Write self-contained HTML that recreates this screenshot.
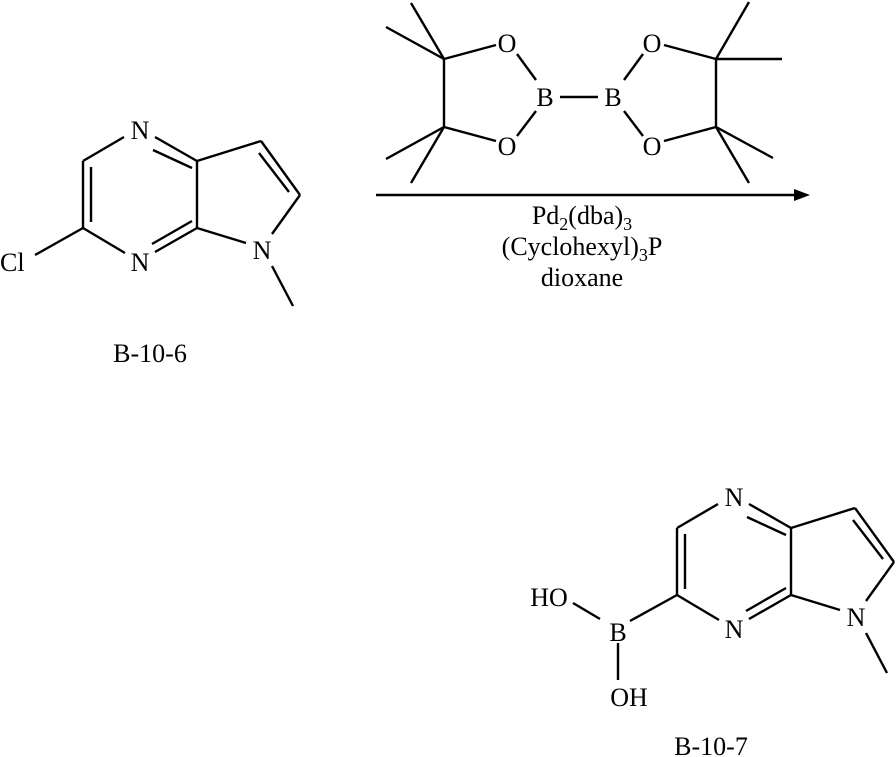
<!DOCTYPE html>
<html><head><style>
html,body{margin:0;padding:0;background:#fff;}
svg{display:block;}
text{font-family:"Liberation Serif",serif;font-size:26px;fill:#000;}
</style></head><body>
<svg width="896" height="757" viewBox="0 0 896 757" xmlns="http://www.w3.org/2000/svg">
<defs>
<g id="core" stroke="#000" stroke-width="2.4" fill="none">
  <line x1="124" y1="137" x2="83" y2="161"/>
  <line x1="83" y1="161" x2="83" y2="228"/>
  <line x1="91" y1="167" x2="91" y2="222"/>
  <line x1="83" y1="228" x2="125" y2="253"/>
  <line x1="155" y1="137" x2="197" y2="161"/>
  <line x1="153" y1="150" x2="192" y2="168"/>
  <line x1="197" y1="161" x2="197" y2="228"/>
  <line x1="155" y1="252" x2="197" y2="228"/>
  <line x1="152" y1="244" x2="192" y2="221"/>
  <line x1="197" y1="161" x2="261" y2="141"/>
  <line x1="261" y1="141" x2="300" y2="195"/>
  <line x1="259" y1="153" x2="289" y2="192"/>
  <line x1="300" y1="195" x2="272" y2="234"/>
  <line x1="197" y1="228" x2="246" y2="243"/>
  <line x1="272" y1="266" x2="293" y2="306"/>
</g>
</defs>
<use href="#core"/>
<g>
<text x="140" y="139" text-anchor="middle">N</text>
<text x="140" y="271" text-anchor="middle">N</text>
<text x="262" y="259" text-anchor="middle">N</text>
<text x="0" y="271">Cl</text>
</g>
<line x1="83" y1="228" x2="35" y2="255" stroke="#000" stroke-width="2.4"/>
<text x="150" y="362" text-anchor="middle">B-10-6</text>

<g stroke="#000" stroke-width="2.4" fill="none">
  <line x1="444" y1="59" x2="496" y2="45"/>
  <line x1="444" y1="59" x2="444" y2="127"/>
  <line x1="444" y1="127" x2="496" y2="141"/>
  <line x1="517" y1="54" x2="536" y2="80"/>
  <line x1="517" y1="136" x2="536" y2="111"/>
  <line x1="560" y1="97" x2="598" y2="97"/>
  <line x1="716" y1="59" x2="716" y2="127"/>
  <line x1="716" y1="59" x2="664" y2="45"/>
  <line x1="716" y1="127" x2="664" y2="141"/>
  <line x1="643" y1="54" x2="624" y2="80"/>
  <line x1="643" y1="136" x2="624" y2="111"/>
  <line x1="444" y1="59" x2="386" y2="27"/>
  <line x1="444" y1="59" x2="411" y2="3"/>
  <line x1="444" y1="127" x2="386" y2="159"/>
  <line x1="444" y1="127" x2="411" y2="183"/>
  <line x1="716" y1="59" x2="749" y2="2"/>
  <line x1="716" y1="59" x2="782" y2="59"/>
  <line x1="716" y1="127" x2="773" y2="158"/>
  <line x1="716" y1="127" x2="749" y2="183"/>
  <line x1="376" y1="195" x2="796" y2="195"/>
</g>
<polygon points="810,195 794,189 794,201" fill="#000"/>
<text x="507" y="52" text-anchor="middle">O</text>
<text x="507" y="155" text-anchor="middle">O</text>
<text x="545" y="106" text-anchor="middle">B</text>
<text x="613" y="106" text-anchor="middle">B</text>
<text x="652" y="52" text-anchor="middle">O</text>
<text x="652" y="155" text-anchor="middle">O</text>
<text x="582" y="224" text-anchor="middle">Pd<tspan font-size="18" dy="6">2</tspan><tspan dy="-6">(dba)</tspan><tspan font-size="18" dy="6">3</tspan></text>
<text x="582" y="255" text-anchor="middle">(Cyclohexyl)<tspan font-size="18" dy="6">3</tspan><tspan dy="-6">P</tspan></text>
<text x="582" y="286" text-anchor="middle">dioxane</text>

<use href="#core" transform="translate(594,367)"/>
<g transform="translate(594,367)">
<text x="140" y="139" text-anchor="middle">N</text>
<text x="140" y="271" text-anchor="middle">N</text>
<text x="262" y="259" text-anchor="middle">N</text>
</g>
<g stroke="#000" stroke-width="2.4">
  <line x1="677" y1="595" x2="630" y2="621"/>
  <line x1="573" y1="603" x2="600" y2="619"/>
  <line x1="618" y1="643" x2="618" y2="680"/>
</g>
<text x="618" y="641" text-anchor="middle">B</text>
<text x="549" y="606" text-anchor="middle">HO</text>
<text x="629" y="706" text-anchor="middle">OH</text>
<text x="711" y="755" text-anchor="middle">B-10-7</text>
</svg>
</body></html>
